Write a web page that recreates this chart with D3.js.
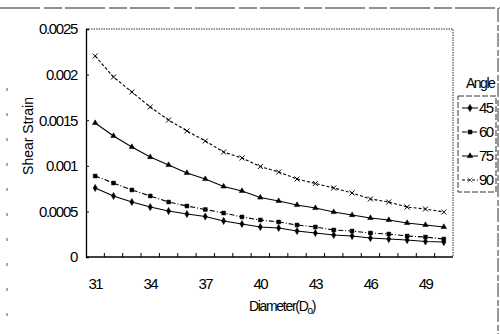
<!DOCTYPE html>
<html lang="en">
<head>
    <meta charset="UTF-8">
    <title>Shear Strain</title>
    <script src="https://cdn.jsdelivr.net/npm/d3@7"></script>
    <style>
        html, body {
            margin: 0;
            padding: 0;
            width: 100%;
            height: 100%;
            overflow: hidden;
            background: #fff;
        }
        text {
            font-family: "Liberation Sans", Arial, sans-serif;
            fill: #000;
        }
        .tick-y { font-size: 15px; letter-spacing: -1.3px; }
        .tick-x { font-size: 15px; letter-spacing: -1.6px; }
    </style>
</head>
<body>
</body>
<script>
    let width = 500;
    let height = 334;

    // data
    let diameters = d3.range(31, 51);
    let angles = ['45', '60', '75', '90'];
    let strain45 = [0.000757, 0.000669, 0.000603, 0.000548, 0.000504, 0.000471, 0.000444, 0.000395, 0.000362, 0.000329,
        0.000318, 0.000285, 0.000263, 0.000241, 0.000230, 0.000208, 0.000197, 0.000186, 0.000170, 0.000164];
    let strain60 = [0.000888, 0.000811, 0.000735, 0.000669, 0.000603, 0.000559, 0.000521, 0.000482, 0.000439, 0.000406,
        0.000384, 0.000351, 0.000329, 0.000296, 0.000285, 0.000263, 0.000252, 0.000230, 0.000219, 0.000197];
    let strain75 = [0.001469, 0.001327, 0.001206, 0.001096, 0.001009, 0.000921, 0.000855, 0.000773, 0.000724, 0.000652,
        0.000614, 0.000570, 0.000537, 0.000493, 0.000460, 0.000428, 0.000406, 0.000373, 0.000351, 0.000329];
    let strain90 = [0.002204, 0.001974, 0.001809, 0.001645, 0.001502, 0.001382, 0.001272, 0.001151, 0.001086, 0.000992,
        0.000932, 0.000855, 0.000806, 0.000757, 0.000702, 0.000636, 0.000603, 0.000548, 0.000526, 0.000493];
    let yTicks = [0, 0.0005, 0.001, 0.0015, 0.002, 0.0025];
    let xTickLabels = [31, 34, 37, 40, 43, 46, 49];

    let series = [
        {name: angles[0], values: strain45, symbol: d3.symbolDiamond, dash: null},
        {name: angles[1], values: strain60, symbol: d3.symbolSquare, dash: '5,2,1,2'},
        {name: angles[2], values: strain75, symbol: d3.symbolTriangle, dash: null},
        {name: angles[3], values: strain90, symbol: d3.symbolCross, dash: '3,2'}
    ];

    let plot = {left: 86, right: 453, top: 29, bottom: 257};

    let svg = d3.select('body')
        .append('svg')
        .attr('width', width)
        .attr('height', height);

    // scanned page frame
    svg.append('line')
        .attr('x1', 0).attr('x2', width).attr('y1', 8).attr('y2', 8)
        .attr('stroke', '#222').attr('stroke-width', 1.2)
        .attr('stroke-dasharray', '40,4,18,3');
    svg.append('line')
        .attr('x1', 498).attr('x2', 498).attr('y1', 8).attr('y2', height)
        .attr('stroke', '#333').attr('stroke-width', 1)
        .attr('stroke-dasharray', '14,3,6,2');
    svg.append('line')
        .attr('x1', 7).attr('x2', 7).attr('y1', 88).attr('y2', height)
        .attr('stroke', '#555').attr('stroke-width', 1)
        .attr('stroke-dasharray', '3,22');

    // scales
    let x = d3.scaleBand()
        .domain(diameters)
        .range([plot.left, plot.right]);

    let y = d3.scaleLinear()
        .domain([0, 0.0025])
        .range([plot.bottom, plot.top]);

    // plot frame: dotted top / right
    svg.append('path')
        .attr('d', `M${plot.left},${plot.top}H${plot.right}V${plot.bottom}`)
        .attr('fill', 'none')
        .attr('stroke', '#333')
        .attr('stroke-width', 1)
        .attr('stroke-dasharray', '1.5,1');

    // y axis
    let yAxis = svg.append('g')
        .attr('transform', `translate(${plot.left},0)`)
        .call(d3.axisLeft(y)
            .tickValues(yTicks)
            .tickSize(-3)
            .tickPadding(9)
            .tickFormat(d => d === 0 ? '0' : d3.format('')(+d.toFixed(4))));
    yAxis.select('.domain').attr('stroke', '#000').attr('stroke-width', 1.3);
    yAxis.selectAll('.tick line').attr('stroke', '#000');
    yAxis.selectAll('.tick text')
        .attr('class', 'tick-y')
        .attr('font-family', null)
        .attr('font-size', null);

    // x axis: ticks at band edges, labels every third category
    let xg = svg.append('g')
        .attr('transform', `translate(0,${plot.bottom})`);
    xg.append('line')
        .attr('x1', plot.left).attr('x2', plot.right)
        .attr('stroke', '#000').attr('stroke-width', 1.3);
    xg.selectAll('.xtick')
        .data(diameters.slice(1))
        .enter().append('line')
        .attr('x1', d => x(d)).attr('x2', d => x(d))
        .attr('y1', 0).attr('y2', -4)
        .attr('stroke', '#000');
    xg.selectAll('.xlabel')
        .data(xTickLabels)
        .enter().append('text')
        .attr('class', 'tick-x')
        .attr('x', d => x(d) + x.bandwidth() / 2)
        .attr('y', 32)
        .attr('text-anchor', 'middle')
        .text(d => d);

    // axis titles
    svg.append('text')
        .attr('transform', 'translate(33,136) rotate(-90)')
        .attr('text-anchor', 'middle')
        .style('font-size', '14px')
        .text('Shear Strain');

    let xt = svg.append('text')
        .attr('x', 282)
        .attr('y', 311)
        .attr('text-anchor', 'middle')
        .style('font-size', '14px')
        .style('letter-spacing', '-1.3px');
    xt.append('tspan').text('Diameter(D');
    xt.append('tspan').attr('dy', 3).style('font-size', '10px').text('o');
    xt.append('tspan').attr('dy', -3).text(')');

    // lines
    let line = d3.line()
        .x((d, i) => x(diameters[i]) + x.bandwidth() / 2)
        .y(d => y(d));

    function markerPath(s) {
        if (s.symbol === d3.symbolCross) {
            return 'M-2.5,-2.5L2.5,2.5M-2.5,2.5L2.5,-2.5';
        }
        let size = s.symbol === d3.symbolTriangle ? 13 : 15;
        return d3.symbol().type(s.symbol).size(size)();
    }

    series.forEach(s => {
        svg.append('path')
            .datum(s.values)
            .attr('d', line)
            .attr('fill', 'none')
            .attr('stroke', '#000')
            .attr('stroke-width', 1.1)
            .attr('stroke-dasharray', s.dash);

        svg.selectAll(null)
            .data(s.values)
            .enter().append('path')
            .attr('transform', (d, i) => `translate(${x(diameters[i]) + x.bandwidth() / 2},${y(d)})`)
            .attr('d', markerPath(s))
            .attr('fill', s.symbol === d3.symbolCross ? 'none' : '#000')
            .attr('stroke', '#000')
            .attr('stroke-width', s.symbol === d3.symbolCross ? 1 : 0.5);
    });

    // legend
    let legend = svg.append('g');
    legend.append('text')
        .attr('x', 466)
        .attr('y', 88)
        .style('font-size', '14px')
        .style('letter-spacing', '-1.5px')
        .text('Angle');
    legend.append('rect')
        .attr('x', 458)
        .attr('y', 96)
        .attr('width', 38)
        .attr('height', 96)
        .attr('fill', 'none')
        .attr('stroke', '#333')
        .attr('stroke-width', 1)
        .attr('stroke-dasharray', '6,2');

    let item = legend.selectAll('.item')
        .data(series)
        .enter().append('g')
        .attr('transform', (d, i) => `translate(462,${108 + i * 24})`);
    item.append('line')
        .attr('x1', 0).attr('x2', 16)
        .attr('stroke', '#000')
        .attr('stroke-width', 1)
        .attr('stroke-dasharray', d => d.dash);
    item.append('path')
        .attr('transform', 'translate(8,0)')
        .attr('d', d => markerPath(d))
        .attr('fill', d => d.symbol === d3.symbolCross ? 'none' : '#000')
        .attr('stroke', '#000')
        .attr('stroke-width', 0.6);
    item.append('text')
        .attr('x', 17)
        .attr('y', 5)
        .style('font-size', '15px')
        .style('letter-spacing', '-1.5px')
        .text(d => d.name);
</script>
</html>
